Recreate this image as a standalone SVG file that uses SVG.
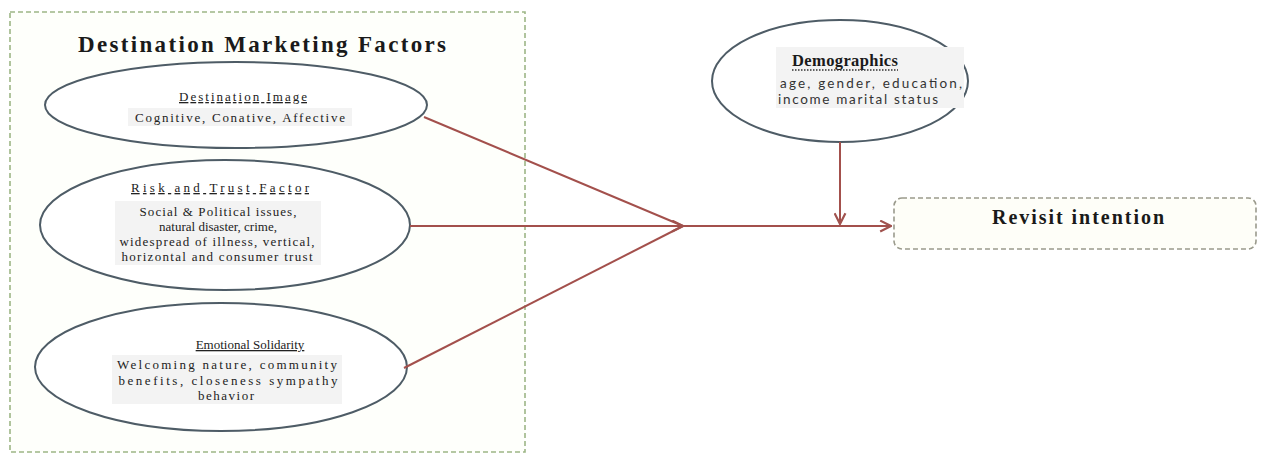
<svg xmlns="http://www.w3.org/2000/svg" width="1266" height="457" viewBox="0 0 1266 457">
  <defs>
    <marker id="chev" viewBox="0 0 12 12" refX="11" refY="6" markerWidth="13" markerHeight="13" markerUnits="userSpaceOnUse" orient="auto">
      <path d="M1,1 L11,6 L1,11" fill="none" stroke="#a0524e" stroke-width="2"/>
    </marker>
  </defs>
  <style>
    .frame { fill: #fefffb; stroke: #9db686; stroke-width: 1.6; stroke-dasharray: 5 3; }
    .oval { fill: #ffffff; stroke: #4e5c66; stroke-width: 2; }
    .hl { fill: #f3f3f3; }
    .title { font-family: "Liberation Serif", "Times New Roman", serif; font-weight: bold; fill: #1a1a1a; }
    .head { font-family: "Liberation Serif", "Times New Roman", serif; font-size: 13px; fill: #222; text-decoration: underline; }
    .body { font-family: "Liberation Serif", "Times New Roman", serif; font-size: 13px; fill: #222; }
    .sans { font-family: Lato, "Open Sans", "Liberation Sans", sans-serif; font-size: 13.5px; fill: #333; }
    .link { fill: none; stroke: #a3504c; stroke-width: 2; }
  </style>
  <rect width="1266" height="457" fill="#ffffff"/>

  <!-- left panel: marketing factors -->
  <g id="marketing-factors">
    <rect class="frame" x="10" y="12" width="515" height="440"/>
    <text class="title" x="262" y="52" font-size="23" text-anchor="middle" textLength="368" lengthAdjust="spacing">Destination Marketing Factors</text>
  </g>

  <g id="destination-image">
    <ellipse class="oval" cx="236" cy="105" rx="191" ry="43"/>
    <rect class="hl" x="128" y="108" width="224" height="18"/>
    <text class="head" x="243" y="101" text-anchor="middle" textLength="128" lengthAdjust="spacing">Destination Image</text>
    <text class="body" x="240" y="122" text-anchor="middle" textLength="210" lengthAdjust="spacing">Cognitive, Conative, Affective</text>
  </g>

  <g id="risk-trust">
    <ellipse class="oval" cx="225" cy="225" rx="185" ry="65"/>
    <rect class="hl" x="115" y="201" width="206" height="64"/>
    <text class="head" x="220" y="192" text-anchor="middle" textLength="178" lengthAdjust="spacing">Risk and Trust Factor</text>
    <text class="body" x="218" y="216" text-anchor="middle" textLength="157" lengthAdjust="spacing">Social &amp; Political issues,</text>
    <text class="body" x="218" y="231" text-anchor="middle">natural disaster, crime,</text>
    <text class="body" x="217" y="246" text-anchor="middle" textLength="195" lengthAdjust="spacing">widespread of illness, vertical,</text>
    <text class="body" x="217" y="261" text-anchor="middle" textLength="191" lengthAdjust="spacing">horizontal and consumer trust</text>
  </g>

  <g id="emotional-solidarity">
    <ellipse class="oval" cx="221" cy="367" rx="186" ry="64"/>
    <rect class="hl" x="112" y="355" width="230" height="49"/>
    <text class="head" x="250" y="349" text-anchor="middle">Emotional Solidarity</text>
    <text class="body" x="227" y="369" text-anchor="middle" textLength="220" lengthAdjust="spacing">Welcoming nature, community</text>
    <text class="body" x="228" y="385" text-anchor="middle" textLength="219" lengthAdjust="spacing">benefits, closeness sympathy</text>
    <text class="body" x="226" y="400" text-anchor="middle" textLength="56" lengthAdjust="spacing">behavior</text>
  </g>

  <!-- moderator -->
  <g id="demographics">
    <ellipse class="oval" cx="840" cy="81" rx="128" ry="61"/>
    <rect class="hl" x="776" y="47" width="188" height="61"/>
    <text class="title" x="845" y="66" font-size="16.5" text-anchor="middle" textLength="106" lengthAdjust="spacing">Demographics</text>
    <line x1="792" y1="70" x2="898" y2="70" stroke="#333" stroke-width="1.3" stroke-dasharray="1.5 1.5"/>
    <text class="sans" x="871" y="88" text-anchor="middle" textLength="182" lengthAdjust="spacing">age, gender, education,</text>
    <text class="sans" x="858" y="104" text-anchor="middle" textLength="160" lengthAdjust="spacing">income marital status</text>
  </g>

  <!-- outcome -->
  <g id="revisit-intention">
    <rect x="894" y="198" width="362" height="51" rx="8" fill="#fefef8" stroke="#9a9a8c" stroke-width="1.6" stroke-dasharray="5 3"/>
    <text class="title" x="1078" y="224" font-size="20" text-anchor="middle" textLength="172" lengthAdjust="spacing">Revisit intention</text>
  </g>

  <g id="connectors">
    <line class="link" x1="424" y1="117" x2="683" y2="226"/>
    <line class="link" x1="404" y1="368" x2="683" y2="226"/>
    <line class="link" x1="410" y1="226" x2="683" y2="226" marker-end="url(#chev)"/>
    <line class="link" x1="683" y1="226" x2="891" y2="226" marker-end="url(#chev)"/>
    <line class="link" x1="840" y1="142" x2="840" y2="224" marker-end="url(#chev)"/>
  </g>
</svg>
